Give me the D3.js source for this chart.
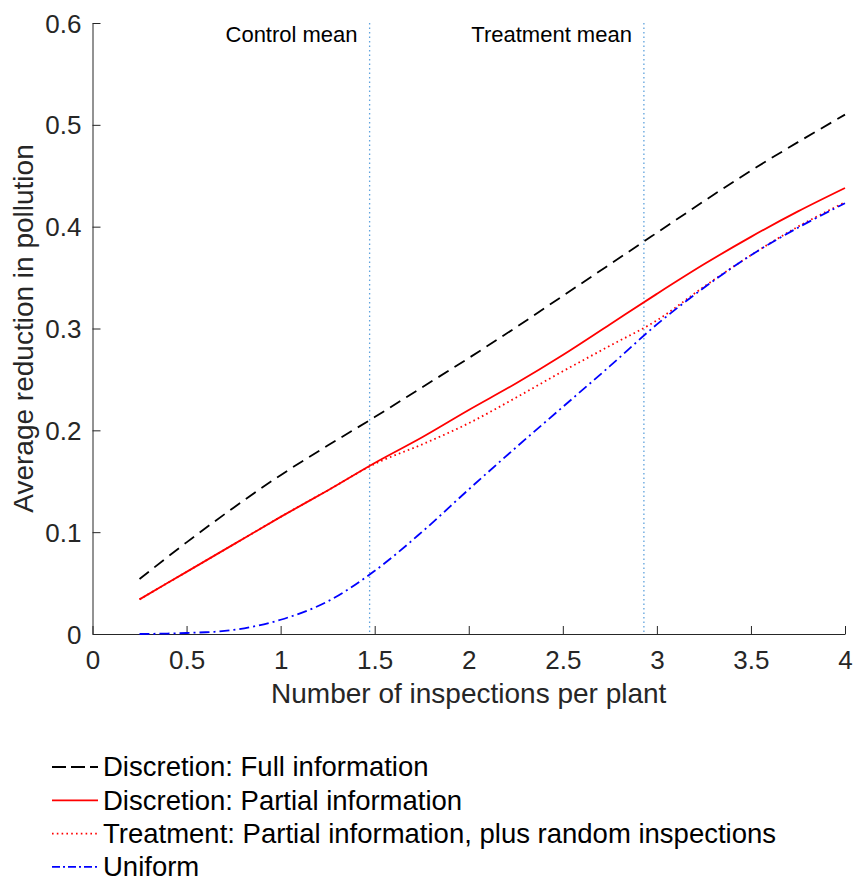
<!DOCTYPE html>
<html>
<head>
<meta charset="utf-8">
<script src="https://cdn.jsdelivr.net/npm/d3@7"></script>
<style>
  body { margin: 0; background: #fff; }
  text { font-family: "Liberation Sans", Arial, sans-serif; }
</style>
</head>
<body>
<div id="chart"></div>
<script>
// inspections per plant
var xs = [0.25, 0.5, 0.75, 1, 1.25, 1.5, 1.75, 2, 2.25, 2.5, 2.75, 3, 3.25, 3.5, 3.75, 4];

var fullInfo = [0.054, 0.090, 0.124, 0.156, 0.185, 0.213, 0.242, 0.271, 0.301, 0.332, 0.363, 0.394, 0.425, 0.455, 0.483, 0.510];
var partialInfo = [0.034, 0.061, 0.088, 0.115, 0.141, 0.168, 0.193, 0.220, 0.246, 0.274, 0.304, 0.334, 0.363, 0.390, 0.415, 0.438];
var treatment = [0.034, 0.061, 0.088, 0.115, 0.141, 0.167, 0.186, 0.207, 0.232, 0.258, 0.283, 0.308, 0.341, 0.372, 0.400, 0.424];
var uniform = [0, 0.001, 0.004, 0.014, 0.032, 0.062, 0.100, 0.142, 0.183, 0.223, 0.263, 0.304, 0.340, 0.372, 0.399, 0.423];

var xTicks = [0, 0.5, 1, 1.5, 2, 2.5, 3, 3.5, 4];
var yTicks = [0, 0.1, 0.2, 0.3, 0.4, 0.5, 0.6];

var controlMean = 1.473;
var treatmentMean = 2.931;

var seriesNames = ['Discretion: Full information', 'Discretion: Partial information',
  'Treatment: Partial information, plus random inspections', 'Uniform'];

var margin = { top: 23, right: 9, bottom: 247, left: 92.5 };
var W = 854, H = 881;
var width = W - margin.left - margin.right;
var height = H - margin.top - margin.bottom;

var x = d3.scaleLinear().domain([0, 4]).range([0, width]);
var y = d3.scaleLinear().domain([0, 0.6]).range([height, 0]);

var svg = d3.select('#chart').append('svg')
  .attr('width', W).attr('height', H);

var g = svg.append('g')
  .attr('transform', 'translate(' + margin.left + ',' + margin.top + ')');

var axisColor = '#262626';

// axes, ticks pointing inward
var xAxis = g.append('g')
  .attr('transform', 'translate(0,' + height + ')')
  .call(d3.axisBottom(x).tickValues(xTicks).tickSizeInner(-8).tickSizeOuter(0).tickPadding(17)
    .tickFormat(d3.format('')));
var yAxis = g.append('g')
  .call(d3.axisLeft(y).tickValues(yTicks).tickSizeInner(-8).tickSizeOuter(0).tickPadding(11)
    .tickFormat(d3.format('')));

[xAxis, yAxis].forEach(function (a) {
  a.selectAll('path, line').attr('stroke', axisColor).attr('stroke-width', 1);
  a.selectAll('text').attr('fill', axisColor).style('font-size', '26px')
    .style('font-family', '"Liberation Sans", Arial, sans-serif');
});
xAxis.selectAll('text').attr('dy', '0.71em');
yAxis.selectAll('text').attr('dy', '0.35em');

// mean markers
var meanColor = '#5fa2dd';
[[controlMean, 'Control mean'], [treatmentMean, 'Treatment mean']].forEach(function (m) {
  g.append('line')
    .attr('x1', x(m[0])).attr('x2', x(m[0]))
    .attr('y1', 0).attr('y2', height)
    .attr('stroke', meanColor).attr('stroke-width', 1.3)
    .attr('stroke-dasharray', '1.5,3');
  g.append('text')
    .attr('x', x(m[0]) - 12).attr('y', 19)
    .attr('text-anchor', 'end')
    .style('font-size', '22px')
    .attr('fill', '#000')
    .text(m[1]);
});

var styles = [
  { data: fullInfo, color: '#000', dash: '12,7' },
  { data: partialInfo, color: '#ff0000', dash: null },
  { data: treatment, color: '#ff0000', dash: '1.6,3.2' },
  { data: uniform, color: '#0000ff', dash: '10,4,2,4' }
];

var line = d3.line()
  .x(function (d) { return x(d[0]); })
  .y(function (d) { return y(d[1]); })
  .curve(d3.curveCatmullRom);

styles.forEach(function (s) {
  var pts = xs.map(function (v, i) { return [v, s.data[i]]; });
  g.append('path')
    .datum(pts)
    .attr('d', line)
    .attr('fill', 'none')
    .attr('stroke', s.color)
    .attr('stroke-width', 1.8)
    .attr('stroke-dasharray', s.dash);
});

// axis titles
g.append('text')
  .attr('x', width / 2).attr('y', height + 69)
  .attr('text-anchor', 'middle')
  .attr('fill', axisColor)
  .style('font-size', '28px')
  .text('Number of inspections per plant');

g.append('text')
  .attr('transform', 'rotate(-90)')
  .attr('x', -height / 2).attr('y', -60)
  .attr('text-anchor', 'middle')
  .attr('fill', axisColor)
  .style('font-size', '28px')
  .text('Average reduction in pollution');

// legend
var legend = svg.append('g').attr('transform', 'translate(52,767)');
styles.forEach(function (s, i) {
  var row = legend.append('g').attr('transform', 'translate(0,' + (i * 33.3) + ')');
  row.append('line')
    .attr('x1', 0).attr('x2', 46).attr('y1', 0).attr('y2', 0)
    .attr('stroke', s.color).attr('stroke-width', 1.8)
    .attr('stroke-dasharray', i === 0 ? '14,5' : (i === 3 ? '8,3,2,3' : s.dash));
  row.append('text')
    .attr('x', 51).attr('y', 0).attr('dy', '0.34em')
    .style('font-size', '27.5px')
    .attr('fill', '#000')
    .text(seriesNames[i]);
});
</script>
</body>
</html>
